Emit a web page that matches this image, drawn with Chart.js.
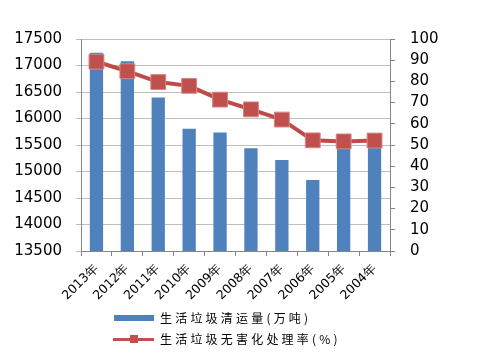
<!DOCTYPE html>
<html><head><meta charset="utf-8">
<script src="https://cdn.jsdelivr.net/npm/chart.js@4/dist/chart.umd.min.js"></script>
<style>
html,body{margin:0;padding:0;background:#fff;}
#wrap{position:relative;width:482px;height:357px;}
canvas{position:absolute;left:0;top:0;}
.leg{position:absolute;left:113px;font-family:"Noto Sans CJK SC";font-size:12px;letter-spacing:3.2px;color:#000;white-space:nowrap;}
.leg span.t{position:absolute;left:47px;top:-9px;}
</style></head>
<body><div id="wrap"><canvas id="c" width="482" height="357"></canvas>
<div class="leg" style="top:318px;"><div style="position:absolute;left:1px;top:-3px;width:40px;height:6px;background:#4F81BD"></div><span class="t">生活垃圾清运量(万吨)</span></div>
<div class="leg" style="top:339px;"><div style="position:absolute;left:0;top:-1.5px;width:41px;height:3px;background:#C0504D"></div><div style="position:absolute;left:17px;top:-4px;width:8px;height:8px;background:#C0504D"></div><span class="t">生活垃圾无害化处理率(%)</span></div>
</div>
<script>
const categories = ["2013年","2012年","2011年","2010年","2009年","2008年","2007年","2006年","2005年","2004年"];
const volume = [17239,17081,16395,15805,15734,15438,15215,14841,15577,15509];
const rate = [89.3,84.8,79.7,77.9,71.4,66.8,62.0,52.2,51.7,52.1];
const leftTicks = [13500,14000,14500,15000,15500,16000,16500,17000,17500];
const rightTicks = [0,10,20,30,40,50,60,70,80,90,100];

const tickFont = {family:"DejaVu Sans", size:15};
new Chart(document.getElementById('c'), {
  data: {
    labels: categories,
    datasets: [
      {type:'line', label:'生活垃圾无害化处理率(%)', data:rate, yAxisID:'y2', order:0,
       borderColor:'#BE4B48', borderWidth:4, pointStyle:'rect', pointRadius:10.5,
       pointBackgroundColor:'#C0504D', pointBorderColor:'#D88683', pointBorderWidth:1, tension:0},
      {type:'bar', label:'生活垃圾清运量(万吨)', data:volume, yAxisID:'y', order:1,
       backgroundColor:'#4F81BD', categoryPercentage:1, barPercentage:0.43}
    ]
  },
  options: {
    responsive:false, animation:false,
    layout:{padding:{top:39,left:0,right:0,bottom:0}},
    plugins:{legend:{display:false}, tooltip:{enabled:false}},
    scales:{
      x:{
        grid:{offset:true, drawOnChartArea:false, tickLength:5, color:'#868686'},
        border:{color:'#868686'},
        ticks:{maxRotation:45, minRotation:45, font:{family:"DejaVu Sans", size:12.5}, color:'#000', padding:5},
        afterFit:(s)=>{s.height=106;}
      },
      y:{
        position:'left', min:13500, max:17500,
        afterBuildTicks:(s)=>{s.ticks=leftTicks.map(v=>({value:v}));},
        grid:{color:'#BEBEBE', tickLength:5},
        border:{color:'#868686'},
        ticks:{font:tickFont, color:'#000', padding:14, callback:(v)=>String(v)},
        afterFit:(s)=>{s.width=81;}
      },
      y2:{
        position:'right', min:0, max:100,
        afterBuildTicks:(s)=>{s.ticks=rightTicks.map(v=>({value:v}));},
        grid:{drawOnChartArea:false, tickLength:5, color:'#868686'},
        border:{color:'#868686'},
        ticks:{font:tickFont, color:'#000', padding:15, callback:(v)=>String(v)},
        afterFit:(s)=>{s.width=92;}
      }
    }
  }
});
</script></body></html>
